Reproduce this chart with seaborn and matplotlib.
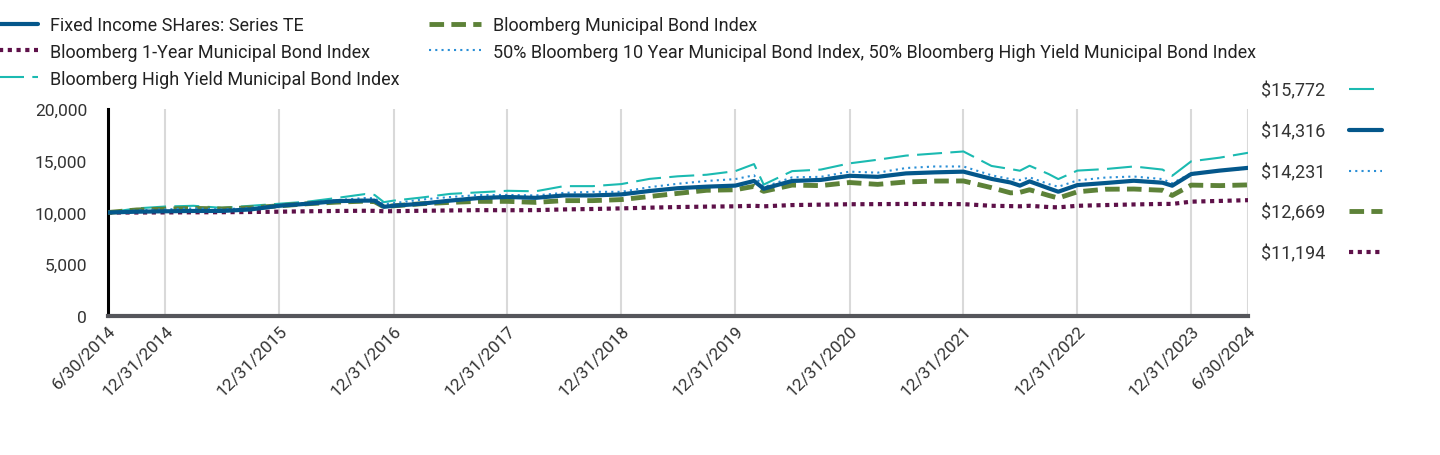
import pandas as pd
import numpy as np
import matplotlib
matplotlib.use("Agg")
import matplotlib.pyplot as plt
from matplotlib.ticker import StrMethodFormatter
import seaborn as sns

# growth of $10,000 (mostly quarter ends + a few turning points)
months = ['2014-06', '2014-09', '2014-12', '2015-03', '2015-06', '2015-09', '2015-12',
          '2016-03', '2016-06', '2016-09', '2016-10', '2016-11', '2016-12',
          '2017-03', '2017-06', '2017-09', '2017-12', '2018-03', '2018-06', '2018-09', '2018-12',
          '2019-03', '2019-06', '2019-09', '2019-12', '2020-02', '2020-03', '2020-06', '2020-09', '2020-12',
          '2021-03', '2021-06', '2021-09', '2021-12', '2022-03', '2022-05', '2022-06', '2022-07',
          '2022-09', '2022-10', '2022-12',
          '2023-03', '2023-06', '2023-09', '2023-10', '2023-12', '2024-03', '2024-06']

fund = [10000, 10080, 10120, 10150, 10150, 10300, 10650,
        10850, 11100, 11150, 11150, 10550, 10650,
        10850, 11150, 11400, 11500, 11420, 11650, 11650, 11750,
        12080, 12350, 12500, 12600, 13050, 12300, 13050, 13150, 13550,
        13450, 13780, 13880, 13950, 13250, 12900, 12600, 13010,
        12340, 12010, 12650,
        12850, 13070, 12880, 12590, 13720, 14050, 14316]

one_year = [10000, 10000, 10010, 10020, 10030, 10050, 10080,
            10120, 10150, 10170, 10160, 10120, 10130,
            10170, 10200, 10230, 10220, 10230, 10300, 10340, 10400,
            10470, 10530, 10570, 10600, 10650, 10600, 10720, 10760, 10800,
            10810, 10830, 10820, 10810, 10650, 10620, 10600, 10650,
            10530, 10500, 10650,
            10720, 10780, 10830, 10830, 11050, 11120, 11194]

high_yield = [10000, 10400, 10580, 10650, 10450, 10650, 10850,
              11050, 11400, 11780, 11700, 11000, 11150,
              11450, 11800, 11950, 12100, 12050, 12550, 12550, 12750,
              13250, 13500, 13650, 14000, 14680, 12700, 14000, 14150, 14750,
              15100, 15500, 15700, 15900, 14500, 14200, 14040, 14520,
              13720, 13230, 14050,
              14200, 14450, 14150, 13550, 14950, 15300, 15772]

muni = [10000, 10250, 10330, 10400, 10350, 10450, 10650,
        10850, 11000, 11100, 11050, 10550, 10650,
        10850, 10980, 11080, 11080, 10980, 11150, 11150, 11250,
        11550, 11850, 12150, 12200, 12530, 12050, 12650, 12600, 12900,
        12720, 12950, 13040, 13050, 12400, 11900, 11950, 12200,
        11650, 11400, 12000,
        12250, 12270, 12150, 11650, 12650, 12600, 12669]

blend = [10000, 10200, 10300, 10400, 10300, 10450, 10750,
         10950, 11200, 11400, 11380, 10800, 10900,
         11250, 11500, 11690, 11700, 11650, 11900, 12000, 12000,
         12450, 12780, 13050, 13230, 13600, 12450, 13400, 13450, 13950,
         13850, 14300, 14450, 14450, 13600, 13230, 13140, 13400,
         12750, 12490, 13100,
         13380, 13480, 13230, 12820, 13800, 14050, 14231]

tick_dates = ['2014-06-30', '2014-12-31', '2015-12-31', '2016-12-31', '2017-12-31', '2018-12-31',
              '2019-12-31', '2020-12-31', '2021-12-31', '2022-12-31', '2023-12-31', '2024-06-30']
tick_labels = ['6/30/2014', '12/31/2014', '12/31/2015', '12/31/2016', '12/31/2017', '12/31/2018',
               '12/31/2019', '12/31/2020', '12/31/2021', '12/31/2022', '12/31/2023', '6/30/2024']

names = ['Fixed Income SHares: Series TE',
         'Bloomberg 1-Year Municipal Bond Index',
         'Bloomberg High Yield Municipal Bond Index',
         'Bloomberg Municipal Bond Index',
         '50% Bloomberg 10 Year Municipal Bond Index, 50% Bloomberg High Yield Municipal Bond Index']
values = [fund, one_year, high_yield, muni, blend]

# colour, width, dash style per series
styles = [dict(color='#04578b', linewidth=3.0, linestyle='-', zorder=6),
          dict(color='#5e1149', linewidth=3.0, linestyle=(0, (1, 1.1)), zorder=2),
          dict(color='#1bbab1', linewidth=1.5, linestyle=(0, (12, 4)), zorder=3),
          dict(color='#5d8238', linewidth=3.5, linestyle=(0, (3, 1.5)), zorder=4),
          dict(color='#2a8fd6', linewidth=1.5, linestyle=(0, (1, 2)), zorder=5)]

dates = pd.to_datetime(months) + pd.offsets.MonthEnd(0)

sns.set_style('white')
plt.rcParams['font.family'] = ['Roboto', 'DejaVu Sans']
plt.rcParams['font.size'] = 13

fig = plt.figure(figsize=(14.4, 4.56), dpi=100)
ax = fig.add_axes([0.075, 0.3048, 0.7917, 0.4539])

lines = {}
for name, vals, st in zip(names, values, styles):
    sns.lineplot(x=dates, y=vals, ax=ax, label=name, legend=False, **st)
    lines[name] = ax.get_lines()[-1]

ax.set_xlim(pd.Timestamp('2014-06-30'), pd.Timestamp('2024-06-30'))
ax.set_ylim(0, 20000)
ax.set_yticks([0, 5000, 10000, 15000, 20000])
ax.yaxis.set_major_formatter(StrMethodFormatter('{x:,.0f}'))
ax.set_xticks(pd.to_datetime(tick_dates))
ax.set_xticklabels(tick_labels, rotation=45, ha='right', rotation_mode='anchor')
ax.tick_params(axis='both', length=0, labelsize=12.5, labelcolor='#333333')
ax.tick_params(axis='x', pad=5)
ax.tick_params(axis='y', pad=15)
ax.set_xlabel('')
ax.set_ylabel('')

ax.grid(axis='x', color='#d9d9d9', linewidth=1.5)
ax.grid(axis='y', visible=False)
for s in ['top', 'right']:
    ax.spines[s].set_visible(False)
ax.spines['left'].set_color('black')
ax.spines['left'].set_linewidth(2.2)
ax.spines['bottom'].set_color('#55565b')
ax.spines['bottom'].set_linewidth(3)
ax.spines['bottom'].set_zorder(7)

# legend at the top, split in two blocks like the original
leg_kw = dict(frameon=False, loc='upper left', borderpad=0, handlelength=2.9,
              handletextpad=0.65, labelspacing=0.49, fontsize=13, labelcolor='#222222')
fig.legend([lines[n] for n in names[:3]], names[:3],
           bbox_to_anchor=(-0.016, 0.9826), **leg_kw)
fig.legend([lines[n] for n in names[3:]], names[3:],
           bbox_to_anchor=(0.2916, 0.9826), **leg_kw)

# ending values on the right, highest first
order = np.argsort([v[-1] for v in values])[::-1]
end_labels = [f"${values[i][-1]:,.0f}" for i in order]
fig.legend([lines[names[i]] for i in order], end_labels, frameon=False, loc='upper left',
           bbox_to_anchor=(0.8694, 0.8394), borderpad=0, markerfirst=False, handlelength=1.83,
           handletextpad=1.33, labelspacing=1.255, fontsize=13, labelcolor='#333333')

fig.savefig('out.png', dpi=100)
